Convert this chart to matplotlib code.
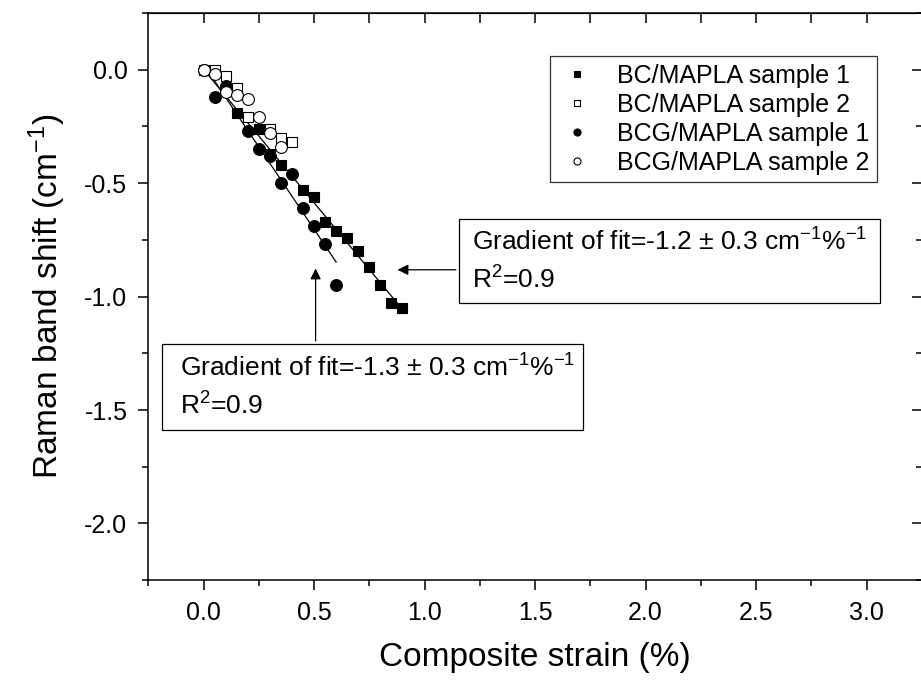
import matplotlib
matplotlib.use('Agg')
import matplotlib.pyplot as plt
from matplotlib.patches import Rectangle
from matplotlib.ticker import MultipleLocator, FormatStrFormatter
import numpy as np

plt.rcParams['font.family'] = ['Liberation Sans', 'DejaVu Sans']
plt.rcParams['mathtext.fontset'] = 'custom'
plt.rcParams['mathtext.rm'] = 'Liberation Sans'
plt.rcParams['mathtext.it'] = 'Liberation Sans'
plt.rcParams['axes.unicode_minus'] = False

# BC/MAPLA sample 1 (filled squares)
bc1_x = [0.0, 0.15, 0.25, 0.3, 0.35, 0.45, 0.5, 0.55, 0.6, 0.65, 0.7, 0.75, 0.8, 0.85, 0.9]
bc1_y = [0.0, -0.19, -0.26, -0.37, -0.42, -0.53, -0.56, -0.67, -0.71, -0.74, -0.80, -0.87, -0.95, -1.03, -1.05]
# BC/MAPLA sample 2 (open squares)
bc2_x = [0.05, 0.1, 0.15, 0.2, 0.3, 0.35, 0.4]
bc2_y = [0.0, -0.03, -0.08, -0.21, -0.26, -0.30, -0.32]
# BCG/MAPLA sample 1 (filled circles)
bcg1_x = [0.0, 0.05, 0.1, 0.2, 0.25, 0.3, 0.35, 0.4, 0.45, 0.5, 0.55, 0.6]
bcg1_y = [0.0, -0.12, -0.07, -0.27, -0.35, -0.38, -0.50, -0.46, -0.61, -0.69, -0.77, -0.95]
# BCG/MAPLA sample 2 (open circles)
bcg2_x = [0.0, 0.05, 0.1, 0.15, 0.2, 0.25, 0.3, 0.35]
bcg2_y = [0.0, -0.02, -0.10, -0.11, -0.13, -0.21, -0.28, -0.34]

labels = ['BC/MAPLA sample 1', 'BC/MAPLA sample 2', 'BCG/MAPLA sample 1', 'BCG/MAPLA sample 2']
fit1_text = 'Gradient of fit=-1.2 $\\pm$ 0.3 cm$^{-1}$%$^{-1}$\nR$^{2}$=0.9'
fit2_text = 'Gradient of fit=-1.3 $\\pm$ 0.3 cm$^{-1}$%$^{-1}$\nR$^{2}$=0.9'

fig = plt.figure(figsize=(9.21, 6.81), dpi=100)
ax = fig.add_axes([0.161, 0.148, 0.840, 0.833])

# linear fits drawn over each series' range
for xs, ys in [(bc1_x, bc1_y), (bcg1_x, bcg1_y)]:
    p = np.polyfit(xs, ys, 1)
    xx = np.array([min(xs), max(xs)])
    ax.plot(xx, np.polyval(p, xx), color='k', lw=0.9, zorder=2)

ax.plot(bc1_x, bc1_y, 's', ms=7.5, mfc='k', mec='k', mew=0.8, label=labels[0], zorder=3)
ax.plot(bc2_x, bc2_y, 's', ms=7.5, mfc='white', mec='k', mew=0.8, label=labels[1], zorder=3)
ax.plot(bcg1_x, bcg1_y, 'o', ms=8.5, mfc='k', mec='k', mew=0.8, label=labels[2], zorder=3)
ax.plot(bcg2_x, bcg2_y, 'o', ms=8.5, mfc='white', mec='k', mew=0.8, label=labels[3], zorder=3)

ax.set_xlim(-0.25, 3.25)
ax.set_ylim(-2.25, 0.25)
ax.set_xticks([0, 0.5, 1.0, 1.5, 2.0, 2.5, 3.0])
ax.set_yticks([-2.0, -1.5, -1.0, -0.5, 0.0])
ax.xaxis.set_minor_locator(MultipleLocator(0.25))
ax.yaxis.set_minor_locator(MultipleLocator(0.25))
ax.xaxis.set_major_formatter(FormatStrFormatter('%.1f'))
ax.yaxis.set_major_formatter(FormatStrFormatter('%.1f'))
ax.tick_params(which='major', direction='out', length=7, width=1.1, labelsize=18, pad=8)
ax.tick_params(which='minor', direction='out', length=4, width=1.1)
for s in ax.spines.values():
    s.set_linewidth(1.1)

top = ax.secondary_xaxis('top')
top.set_xticks(np.arange(-0.25, 3.26, 0.25)[1:-1])
top.tick_params(direction='in', length=7, width=1.1, labeltop=False)
right = ax.secondary_yaxis('right')
right.set_yticks([-2.0, -1.5, -1.0, -0.5, 0.0])
right.yaxis.set_minor_locator(MultipleLocator(0.25))
right.tick_params(which='major', direction='in', length=7, width=1.1, labelright=False)
right.tick_params(which='minor', direction='in', length=4, width=1.1)

ax.set_xlabel('Composite strain (%)', fontsize=24, labelpad=12)
ax.set_ylabel('Raman band shift (cm$^{-1}$)', fontsize=24, labelpad=12)

leg = ax.legend(loc='upper right', bbox_to_anchor=(0.942, 0.924), borderaxespad=0,
                fontsize=18, markerscale=0.6, handlelength=1.6, handletextpad=0.8,
                labelspacing=0.2, borderpad=0.3, fancybox=False, framealpha=1)
leg.get_frame().set_edgecolor('#333333')
leg.get_frame().set_linewidth(0.9)

# annotation boxes
ax.add_patch(Rectangle((1.154, -1.027), 1.906, 0.370, fill=False, ec='k', lw=0.9, zorder=4))
ax.text(1.215, -0.842, fit1_text, fontsize=19, va='center', ha='left', linespacing=1.5)
ax.add_patch(Rectangle((-0.19, -1.587), 1.906, 0.379, fill=False, ec='k', lw=0.9, zorder=4))
ax.text(-0.105, -1.40, fit2_text, fontsize=19, va='center', ha='left', linespacing=1.5)

arrow = dict(arrowstyle='-|>', color='k', lw=0.9, mutation_scale=16)
ax.annotate('', xy=(0.865, -0.882), xytext=(1.154, -0.882), arrowprops=arrow)
ax.annotate('', xy=(0.507, -0.864), xytext=(0.507, -1.208), arrowprops=arrow)

fig.savefig('out.png', dpi=100)
